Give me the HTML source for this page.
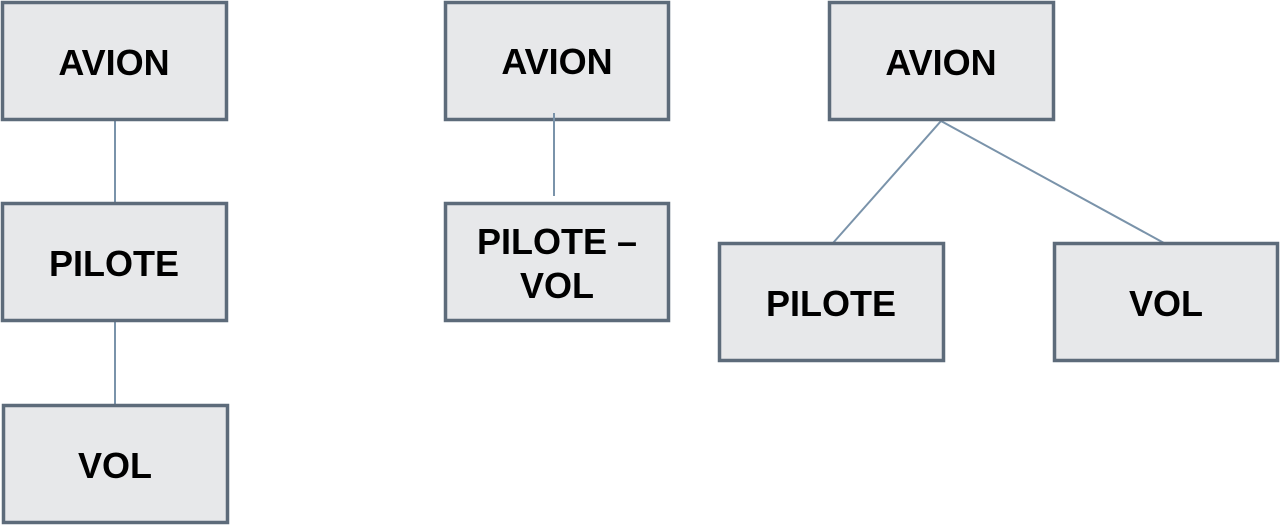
<!DOCTYPE html>
<html><head><style>body{margin:0;background:#fff}svg{display:block}</style></head><body>
<svg width="1280" height="525" xmlns="http://www.w3.org/2000/svg" font-family="Liberation Sans, Arial, sans-serif" font-weight="bold" font-size="36" text-anchor="middle">
<g stroke="#7a93aa" stroke-width="2">
<line x1="115" y1="121" x2="115" y2="202"/>
<line x1="115" y1="322" x2="115" y2="404"/>
<line x1="941" y1="121" x2="833" y2="243"/>
<line x1="941" y1="121" x2="1164" y2="243"/>
</g>
<g fill="#e7e8ea" stroke="#5d6b7a" stroke-width="3.5">
<rect x="2.5" y="2.5" width="224" height="117"/>
<rect x="2.5" y="203.5" width="224" height="117"/>
<rect x="3.5" y="405.5" width="224" height="117"/>
<rect x="445.5" y="2.5" width="223" height="117"/>
<rect x="445.5" y="203.5" width="223" height="117"/>
<rect x="829.5" y="2.5" width="224" height="117"/>
<rect x="719.5" y="243.5" width="224" height="117"/>
<rect x="1054.5" y="243.5" width="223" height="117"/>
</g>
<line x1="554" y1="113" x2="554" y2="196" stroke="#7a93aa" stroke-width="2"/>
<g fill="#000">
<text x="114" y="75">AVION</text>
<text x="114" y="276">PILOTE</text>
<text x="115" y="478">VOL</text>
<text x="557" y="74">AVION</text>
<text x="557" y="254">PILOTE –</text>
<text x="557" y="298">VOL</text>
<text x="941" y="75">AVION</text>
<text x="831" y="316">PILOTE</text>
<text x="1166" y="316">VOL</text>
</g>
</svg>
</body></html>
